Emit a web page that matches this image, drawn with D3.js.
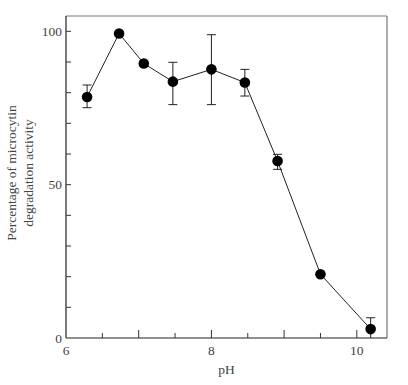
<!DOCTYPE html>
<html>
<head>
<meta charset="utf-8">
<script src="https://cdn.jsdelivr.net/npm/d3@7"></script>
<style>
  body { margin: 0; background: #fff; }
  svg { display: block; }
</style>
</head>
<body>
<div id="chart"></div>
<script>
// data
const phValues = [6.29, 6.73, 7.07, 7.47, 8.0, 8.46, 8.91, 9.50, 10.19];
const activity = [78.6, 99.3, 89.5, 83.6, 87.6, 83.3, 57.7, 20.8, 2.9];
const errUpper = [82.5, null, null, 89.9, 98.9, 87.6, 59.9, null, 6.6];
const errLower = [75.1, null, null, 76.1, 76.1, 78.9, 55.0, null, 0];
const xTickLabels = [6, 8, 10];
const yTickLabels = [0, 50, 100];

const width = 408, height = 385;
const margin = { left: 66, right: 21, top: 16, bottom: 47 };

const svg = d3.select("#chart").append("svg")
  .attr("width", width)
  .attr("height", height)
  .style("font-family", "'Liberation Serif', 'Times New Roman', serif");

const x = d3.scaleLinear().domain([6, 10.415]).range([margin.left, width - margin.right]);
const y = d3.scaleLinear().domain([0, 105]).range([height - margin.bottom, margin.top]);

const x0 = x.range()[0], x1 = x.range()[1];
const y0 = y.range()[0], y1 = y.range()[1];

// frame: top/right lighter
svg.append("line").attr("x1", x0).attr("x2", x1).attr("y1", y1).attr("y2", y1)
  .attr("stroke", "#777").attr("stroke-width", 1.2);
svg.append("line").attr("x1", x1).attr("x2", x1).attr("y1", y1).attr("y2", y0)
  .attr("stroke", "#777").attr("stroke-width", 1.2);
svg.append("line").attr("x1", x0).attr("x2", x1).attr("y1", y0).attr("y2", y0)
  .attr("stroke", "#222").attr("stroke-width", 1.2);
svg.append("line").attr("x1", x0).attr("x2", x0).attr("y1", y1).attr("y2", y0)
  .attr("stroke", "#222").attr("stroke-width", 1.2);

// x ticks (inward)
const xTicks = d3.range(6.5, 10.01, 0.5);
svg.append("g").selectAll("line").data(xTicks).enter().append("line")
  .attr("x1", d => x(d)).attr("x2", d => x(d))
  .attr("y1", y0)
  .attr("y2", d => y0 - (Number.isInteger(d) ? 8 : 5))
  .attr("stroke", "#333").attr("stroke-width", 1);

// y ticks (inward)
const yTicks = d3.range(10, 101, 10);
svg.append("g").selectAll("line").data(yTicks).enter().append("line")
  .attr("x1", x0).attr("x2", x0 + 5)
  .attr("y1", d => y(d)).attr("y2", d => y(d))
  .attr("stroke", "#333").attr("stroke-width", 1);

// tick labels
svg.append("g").selectAll("text").data(xTickLabels).enter().append("text")
  .attr("x", d => x(d)).attr("y", y0 + 17)
  .attr("text-anchor", "middle")
  .attr("font-size", 13.5).attr("fill", "#444")
  .text(d => d);

svg.append("g").selectAll("text").data(yTickLabels).enter().append("text")
  .attr("x", x0 - 4).attr("y", d => y(d) + 4.5)
  .attr("text-anchor", "end")
  .attr("font-size", 13.5).attr("fill", "#444")
  .text(d => d);

// axis titles
svg.append("text")
  .attr("x", (x0 + x1) / 2).attr("y", 374)
  .attr("text-anchor", "middle")
  .attr("font-size", 13.5).attr("fill", "#444")
  .text("pH");

const yTitle = svg.append("text")
  .attr("transform", `translate(12, 173) rotate(-90)`)
  .attr("text-anchor", "middle")
  .attr("font-size", 13.5).attr("fill", "#444");
yTitle.append("tspan").attr("x", 0).attr("dy", 4).text("Percentage of microcytin");
yTitle.append("tspan").attr("x", 0).attr("dy", 17).text("degradation activity");

const points = phValues.map((p, i) => ({ p, v: activity[i], hi: errUpper[i], lo: errLower[i] }));

// connecting line
svg.append("path")
  .datum(points)
  .attr("fill", "none")
  .attr("stroke", "#222")
  .attr("stroke-width", 1)
  .attr("d", d3.line().x(d => x(d.p)).y(d => y(d.v)));

// error bars
const eb = svg.append("g").selectAll("g").data(points.filter(d => d.hi != null)).enter().append("g")
  .attr("stroke", "#222").attr("stroke-width", 1);
eb.append("line")
  .attr("x1", d => x(d.p)).attr("x2", d => x(d.p))
  .attr("y1", d => y(d.hi)).attr("y2", d => y(d.lo));
eb.append("line")
  .attr("x1", d => x(d.p) - 4.5).attr("x2", d => x(d.p) + 4.5)
  .attr("y1", d => y(d.hi)).attr("y2", d => y(d.hi));
eb.filter(d => d.lo > 0).append("line")
  .attr("x1", d => x(d.p) - 4.5).attr("x2", d => x(d.p) + 4.5)
  .attr("y1", d => y(d.lo)).attr("y2", d => y(d.lo));

// markers
svg.append("g").selectAll("circle").data(points).enter().append("circle")
  .attr("cx", d => x(d.p)).attr("cy", d => y(d.v))
  .attr("r", 5.3)
  .attr("fill", "#000");
</script>
</body>
</html>
